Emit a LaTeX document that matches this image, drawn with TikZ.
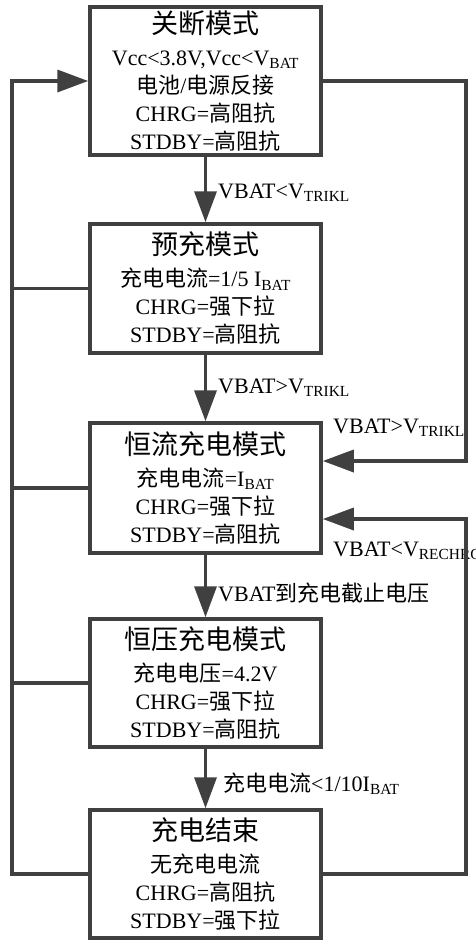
\documentclass[tikz,border=0pt]{standalone}
\usepackage{fontspec}
\setmainfont{Liberation Serif}
\newfontfamily\cjk{Noto Sans CJK SC}
\usetikzlibrary{arrows.meta}
\newcommand\cn[1]{{\cjk #1}}
\newcommand\lo[1]{\textsubscript{#1}}
\newcommand\ttl[1]{{\fontsize{27}{30}\selectfont\cjk #1}}
\definecolor{linegray}{HTML}{404040}
\begin{document}
\begin{tikzpicture}[x=1pt,y=-1pt,
  line/.style={draw=linegray, line width=3.5pt},
  arr/.style={line, -{Triangle[length=31pt,width=22pt]}},
  statebox/.style={draw=linegray, line width=3.5pt, minimum width=231pt,
    inner sep=0pt, align=center, font=\fontsize{22}{28}\selectfont},
  lbl/.style={font=\fontsize{22}{26}\selectfont, inner sep=0pt, anchor=west}]
\useasboundingbox (0,0) rectangle (475,940);

\node[statebox, minimum height=148pt] (b1) at (205.5,81)
  {\ttl{关断模式}\\[4pt]
   Vcc<3.8V,Vcc<V\lo{BAT}\\
   \cn{电池}/\cn{电源反接}\\
   CHRG=\cn{高阻抗}\\
   STDBY=\cn{高阻抗}};
\node[statebox, minimum height=129pt] (b2) at (205.5,288.5)
  {\ttl{预充模式}\\[4pt]
   \cn{充电电流}=1/5 I\lo{BAT}\\
   CHRG=\cn{强下拉}\\
   STDBY=\cn{高阻抗}};
\node[statebox, minimum height=130pt] (b3) at (205.5,488)
  {\ttl{恒流充电模式}\\[4pt]
   \cn{充电电流}=I\lo{BAT}\\
   CHRG=\cn{强下拉}\\
   STDBY=\cn{高阻抗}};
\node[statebox, minimum height=128pt] (b4) at (205.5,683)
  {\ttl{恒压充电模式}\\[4pt]
   \cn{充电电压}=4.2V\\
   CHRG=\cn{强下拉}\\
   STDBY=\cn{高阻抗}};
\node[statebox, minimum height=128pt] (b5) at (205.5,874)
  {\ttl{充电结束}\\[4pt]
   \cn{无充电电流}\\
   CHRG=\cn{高阻抗}\\
   STDBY=\cn{强下拉}};

% vertical flow
\draw[arr] (b1.south) -- (b2.north);
\draw[arr] (b2.south) -- (b3.north);
\draw[arr] (b3.south) -- (b4.north);
\draw[arr] (b4.south) -- (b5.north);

\node[lbl] (l1) at (218,193) {VBAT<V\lo{TRIKL}};
\node[lbl] (l2) at (218,388) {VBAT>V\lo{TRIKL}};
\node[lbl] (l3) at (218,593) {VBAT\cn{到充电截止电压}};
\node[lbl] (l4) at (223,784) {\cn{充电电流}<1/10I\lo{BAT}};
\node[lbl] (l5) at (333,428) {VBAT>V\lo{TRIKL}};
\node[lbl] (l6) at (333,551) {VBAT<V\lo{RECHRG}};

% left return loop
\coordinate (lt) at (12,81);
\draw[arr] (b5.west) -| (lt) -- (b1.west);
\draw[line] (b2.west) -- (b2.west -| lt);
\draw[line] (b3.west) -- (b3.west -| lt);
\draw[line] (b4.west) -- (b4.west -| lt);

% right loops
\coordinate (r1) at (466,461);
\coordinate (r2) at (466,519);
\draw[arr] (b1.east) -| (r1) -- (r1 -| b3.east);
\draw[arr] (b5.east) -| (r2) -- (r2 -| b3.east);
\end{tikzpicture}
\end{document}
